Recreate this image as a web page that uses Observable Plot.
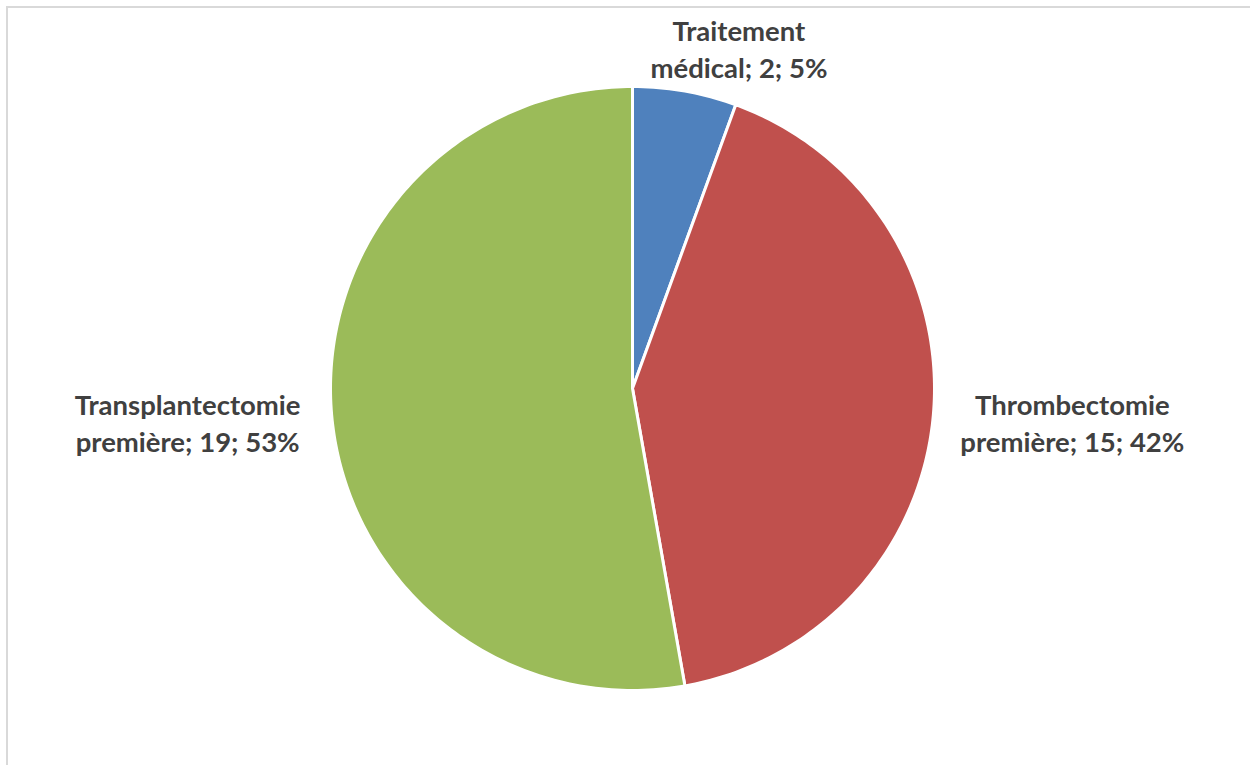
<!DOCTYPE html>
<html>
<head>
<meta charset="utf-8">
<script src="https://cdn.jsdelivr.net/npm/d3@7"></script>
<script src="https://cdn.jsdelivr.net/npm/@observablehq/plot@0.6"></script>
<style>
  html, body { margin: 0; padding: 0; background: #ffffff; overflow: hidden; }
  #wrap { position: relative; width: 1250px; height: 765px; }
  #frame { position: absolute; left: 6px; top: 6px; width: 1300px; height: 800px;
           border: 2px solid #d9d9d9; box-sizing: border-box; pointer-events: none; }
  #chart svg { display: block; }
</style>
</head>
<body>
<div id="wrap"><div id="chart"></div><div id="frame"></div></div>
<script>
// Data
const categories = ["Traitement médical", "Thrombectomie première", "Transplantectomie première"];
const values = [2, 15, 19];
const percentLabels = ["5%", "42%", "53%"];
const labelTexts = ["Traitement\nmédical; 2; 5%", "Thrombectomie\npremière; 15; 42%", "Transplantectomie\npremière; 19; 53%"];
const colors = ["#4F81BD", "#C0504D", "#9BBB59"];

// Layout
const W = 1250, H = 765, CX = 632, CY = 388, R = 302;

const table = categories.map((c, i) => ({category: c, value: values[i], label: labelTexts[i]}));
const arcs = d3.pie().sort(null).value(d => d.value).startAngle(0).endAngle(2 * Math.PI)(table);

// Build slice outlines (unit circle coordinates) from pie angles
const slicePts = [];
arcs.forEach(a => {
  const cat = a.data.category;
  slicePts.push({category: cat, x: 0, y: 0});
  const n = Math.max(8, Math.ceil((a.endAngle - a.startAngle) / (Math.PI / 180)));
  for (let k = 0; k <= n; k++) {
    const t = a.startAngle + (a.endAngle - a.startAngle) * k / n;
    slicePts.push({category: cat, x: Math.sin(t), y: Math.cos(t)});
  }
  slicePts.push({category: cat, x: 0, y: 0});
});

// Label anchors at slice mid-angle on the pie edge
const labelOffsets = [[54, -43], [139, 7], [-144, 7]];
const labels = arcs.map((a, i) => {
  const m = (a.startAngle + a.endAngle) / 2;
  return {text: a.data.label, x: Math.sin(m), y: Math.cos(m), dx: labelOffsets[i][0], dy: labelOffsets[i][1]};
});

const plot = Plot.plot({
  width: W,
  height: H,
  margin: 0,
  x: {domain: [-CX / R, (W - CX) / R], axis: null},
  y: {domain: [-(H - CY) / R, CY / R], axis: null},
  color: {domain: categories, range: colors},
  style: {background: "transparent"},
  marks: [
    Plot.line(slicePts, {x: "x", y: "y", z: "category", fill: "category", stroke: "#ffffff", strokeWidth: 3, strokeLinejoin: "round"}),
    ...labels.map(l => Plot.text([l], {
      x: "x", y: "y", text: "text", dx: l.dx, dy: l.dy,
      fill: "#404040", fontSize: 27.5, fontWeight: "bold",
      fontFamily: "Lato, 'Open Sans', sans-serif",
      lineAnchor: "middle", lineHeight: 1.34, textAnchor: "middle"
    }))
  ]
});
document.getElementById("chart").appendChild(plot);
</script>
</body>
</html>
